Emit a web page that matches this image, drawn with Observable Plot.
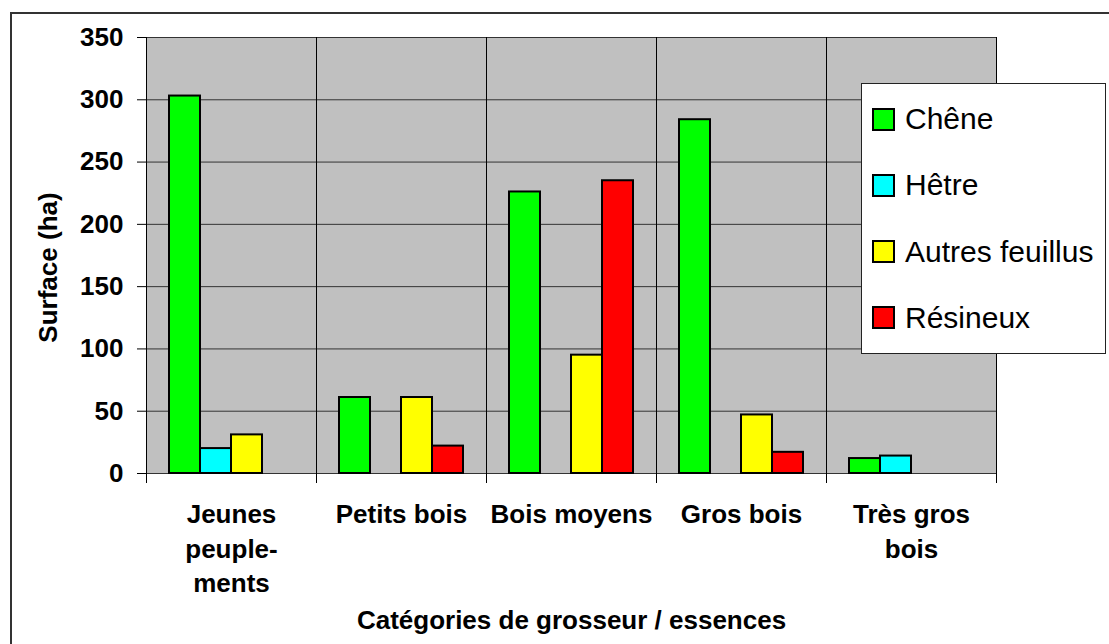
<!DOCTYPE html>
<html><head><meta charset="utf-8">
<script src="https://cdn.jsdelivr.net/npm/d3@7"></script>
<script src="https://cdn.jsdelivr.net/npm/@observablehq/plot@0.6"></script>
<style>
body{margin:0;background:#fff;font-family:"Liberation Sans",Arial,sans-serif;}
#wrap{position:relative;width:1109px;height:644px;overflow:hidden;}
#border{position:absolute;left:10px;top:12px;width:1200px;height:700px;border-left:2px solid #333;border-top:2px solid #333;}
#wrap svg{position:absolute;left:0;top:0;}
#legend{position:absolute;left:861px;top:83px;width:243px;height:269px;background:#fff;border:1.5px solid #222;}
.item{position:absolute;left:10px;height:30px;display:flex;align-items:center;font-size:30px;white-space:nowrap;color:#000;}
.sw{width:19px;height:19px;border:2px solid #000;margin-right:10px;}
</style></head><body><div id="wrap"><div id="border"></div></div>
<script>
const categories = ["Jeunes peuplements", "Petits bois", "Bois moyens", "Gros bois", "Très gros bois"];
const tickLabels = ["Jeunes\npeuple-\nments", "Petits bois", "Bois moyens", "Gros bois", "Très gros\nbois"];
const series = ["Chêne", "Hêtre", "Autres feuillus", "Résineux"];
const colors = ["#00ff00", "#00ffff", "#ffff00", "#ff0000"];
const chene = [303, 61, 226, 284, 12];
const hetre = [20, 0, 0, 0, 14];
const autres = [31, 61, 95, 47, 0];
const resineux = [0, 22, 235, 17, 0];
const yTicks = [0, 50, 100, 150, 200, 250, 300, 350];
const yTitle = "Surface (ha)";
const xTitle = "Catégories de grosseur / essences";

const values = [chene, hetre, autres, resineux];
const rows = [];
series.forEach((s, j) => values[j].forEach((v, i) => { if (v > 0) rows.push({cat: categories[i], series: s, value: v}); }));
const labelOf = new Map(categories.map((c, i) => [c, tickLabels[i]]));

const chart = Plot.plot({
  width: 1109, height: 644,
  marginLeft: 145, marginRight: 113, marginTop: 37, marginBottom: 171,
  style: {background: "transparent", fontFamily: "Liberation Sans, Arial, sans-serif", color: "#000"},
  fx: {domain: categories, padding: 0, label: null},
  x: {domain: series, paddingInner: 0, paddingOuter: 0.67, axis: null},
  y: {domain: [0, 350]},
  color: {domain: series, range: colors},
  marks: [
    Plot.frame({fill: "#c0c0c0", stroke: null}),
    Plot.gridY(yTicks, {stroke: "#333", strokeOpacity: 1}),
    Plot.frame({anchor: "left", stroke: "#000", insetBottom: -9}),
    Plot.frame({anchor: "right", stroke: "#000", insetBottom: -9}),
    Plot.barY(rows, {fx: "cat", x: "series", y: "value", fill: "series", stroke: "#000", strokeWidth: 2}),
    Plot.axisY(yTicks, {tickSize: 9, tickPadding: 14, fontSize: 26, fontWeight: "bold", label: null}),
    Plot.text([yTitle], {fx: () => categories[0], text: d => d, frameAnchor: "left", rotate: -90, textAnchor: "middle", lineAnchor: "top", dx: -108, dy: 12, fontSize: 26, fontWeight: "bold", fill: "#000"}),
    Plot.axisFx({anchor: "bottom", tickSize: 0, tickPadding: 25, fontSize: 26, fontWeight: "bold", lineHeight: 1.33, tickFormat: d => labelOf.get(d), label: xTitle, labelAnchor: "center", labelOffset: 155, labelArrow: "none"})
  ]
});
const wrap = document.getElementById("wrap");
wrap.appendChild(chart);

const legend = document.createElement("div");
legend.id = "legend";
series.forEach((s, i) => {
  const it = document.createElement("div");
  it.className = "item";
  it.style.top = (20 + i * 66.3) + "px";
  const sw = document.createElement("div");
  sw.className = "sw";
  sw.style.background = colors[i];
  const t = document.createElement("span");
  t.textContent = s;
  it.appendChild(sw); it.appendChild(t);
  legend.appendChild(it);
});
wrap.appendChild(legend);
</script>
</body></html>
